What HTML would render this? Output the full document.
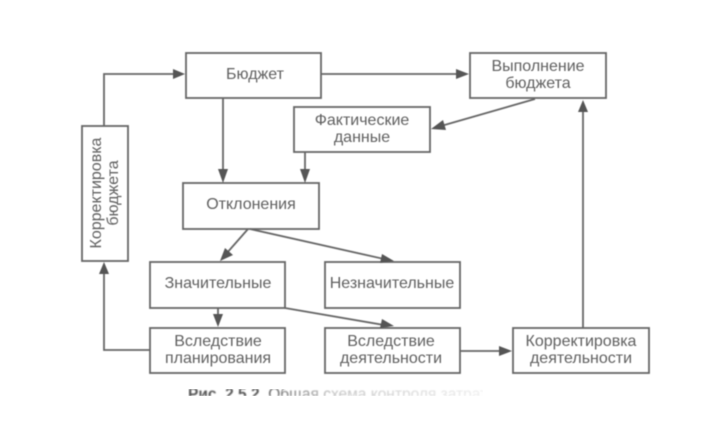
<!DOCTYPE html>
<html lang="ru">
<head>
<meta charset="utf-8">
<title>Схема контроля</title>
<style>
html,body{margin:0;padding:0;background:#fff;}
body{width:719px;height:428px;overflow:hidden;position:relative;}
svg{position:absolute;left:0;top:0;filter:blur(0.5px);}
text{font-family:"Liberation Sans",sans-serif;font-size:16px;fill:#606060;text-anchor:middle;}
.cap{position:absolute;left:188px;top:389px;width:295px;height:7px;overflow:hidden;filter:blur(0.8px);-webkit-mask-image:linear-gradient(90deg,#000 0,#000 25%,rgba(0,0,0,.35) 50%,rgba(0,0,0,.1) 100%);mask-image:linear-gradient(90deg,#000 0,#000 25%,rgba(0,0,0,.35) 50%,rgba(0,0,0,.1) 100%);}
.cap div{font:15.5px/16px "Liberation Sans",sans-serif;color:#555;white-space:nowrap;margin-top:-2px;}
</style>
</head>
<body>
<svg width="719" height="428" viewBox="0 0 719 428" xmlns="http://www.w3.org/2000/svg">
<g fill="#fff" stroke="#666" stroke-width="1.8">
<rect x="186" y="53" width="135" height="45"/>
<rect x="470" y="53" width="136" height="45"/>
<rect x="294" y="107" width="136" height="45"/>
<rect x="183" y="183" width="136" height="46"/>
<rect x="82" y="126" width="46" height="135"/>
<rect x="150" y="262" width="135" height="46"/>
<rect x="325" y="262" width="135" height="46"/>
<rect x="150" y="328" width="135" height="45"/>
<rect x="325" y="328" width="135" height="45"/>
<rect x="513" y="328" width="136" height="45"/>
</g>
<g fill="none" stroke="#666" stroke-width="1.8">
<polyline points="104,126 104,74 176,74"/>
<line x1="223" y1="98" x2="223" y2="172"/>
<line x1="305" y1="152" x2="305" y2="172"/>
<line x1="321" y1="74" x2="460" y2="74"/>
<line x1="535" y1="99" x2="441" y2="126"/>
<line x1="583" y1="328" x2="583" y2="110"/>
<line x1="248" y1="229" x2="226" y2="254"/>
<line x1="250" y1="229" x2="384" y2="259"/>
<line x1="218" y1="308" x2="218" y2="318"/>
<line x1="285" y1="308" x2="384" y2="325"/>
<polyline points="150,350 104,350 104,271"/>
<line x1="460" y1="351" x2="503" y2="351"/>
</g>
<g fill="#555" stroke="none">
<polygon points="185,74 173,69 173,79"/>
<polygon points="223,183 218,169 228,169"/>
<polygon points="305,183 300,169 310,169"/>
<polygon points="469,74 456,69 456,79"/>
<polygon points="431,129 443,120 446,130"/>
<polygon points="583,100 578,112 588,112"/>
<polygon points="220,261 225,248 233,255"/>
<polygon points="394,261 380,263 382,254"/>
<polygon points="218,327 213,314 223,314"/>
<polygon points="394,326 380,328 382,319"/>
<polygon points="104,262 99,274 109,274"/>
<polygon points="512,351 499,346 499,356"/>
</g>
<text x="255" y="79">Бюджет</text>
<text x="538" y="71">Выполнение</text>
<text x="538" y="88">бюджета</text>
<text x="362" y="125">Фактические</text>
<text x="362" y="142">данные</text>
<text x="251" y="209">Отклонения</text>
<text x="218" y="288">Значительные</text>
<text x="392" y="288">Незначительные</text>
<text x="218" y="346">Вследствие</text>
<text x="218" y="363">планирования</text>
<text x="391" y="346">Вследствие</text>
<text x="391" y="363">деятельности</text>
<text x="581" y="346">Корректировка</text>
<text x="581" y="363">деятельности</text>
<text transform="translate(101,193) rotate(-90)">Корректировка</text>
<text transform="translate(118,193) rotate(-90)">бюджета</text>
</svg>
<div class="cap"><div><b>Рис. 2.5.2.</b> Общая схема контроля затрат на материалы</div></div>
</body>
</html>
